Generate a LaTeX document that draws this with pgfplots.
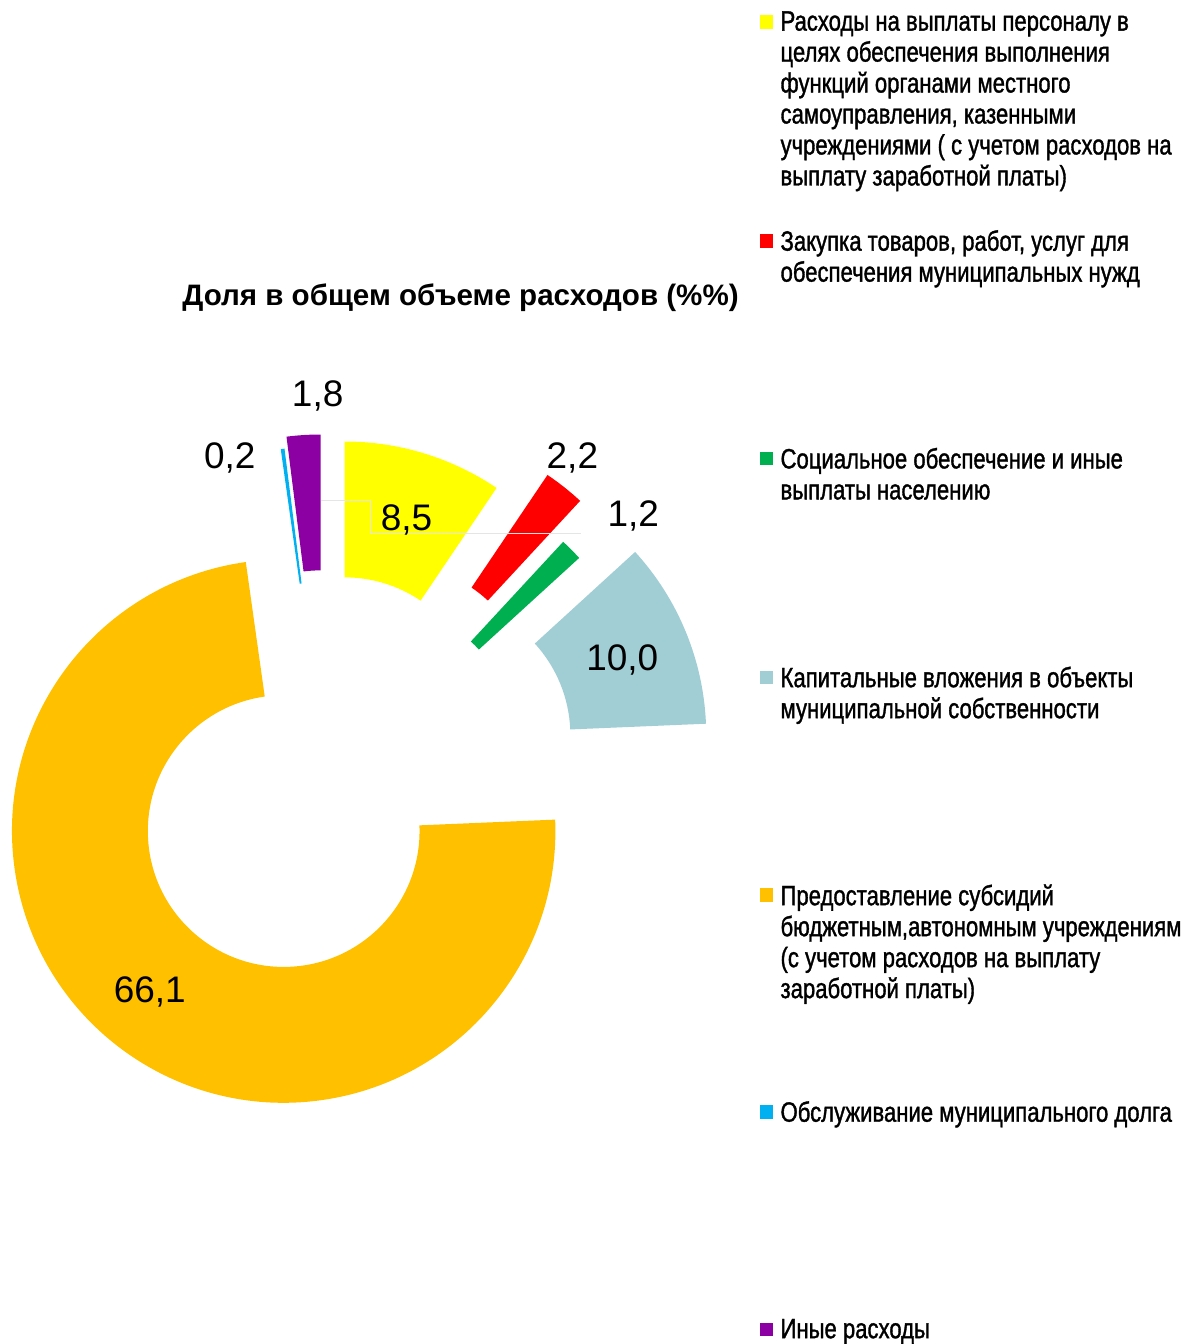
\documentclass[border=0pt]{standalone}
\usepackage{fontspec}
\setmainfont{Liberation Sans}
\newfontfamily\legfont{Liberation Sans}[FakeStretch=0.79, FakeBold=1.2]
\usepackage{pgfplots}
\usepackage{pgfplotstable}
\pgfplotsset{compat=1.18}
\usetikzlibrary{calc}
\definecolor{cY}{HTML}{FFFF00}
\definecolor{cR}{HTML}{FF0000}
\definecolor{cG}{HTML}{00B050}
\definecolor{cB}{HTML}{A0CED4}
\definecolor{cO}{HTML}{FFC000}
\definecolor{cL}{HTML}{00B0F0}
\definecolor{cP}{HTML}{8C00A3}
% value (%), slice apex in picture pixels (x right, y down), colour
\pgfplotstableread{
idx val ax ay col
0 8.5 345 714 cY
1 2.2 396 701 cR
2 1.2 379 742 cG
3 10.0 435 736 cB
4 66.1 284 832 cO
5 0.2 319 719 cL
6 1.8 321 707 cP
}\slices
\begin{document}
\begin{tikzpicture}
\begin{axis}[
  x=0.5pt, y=0.5pt, scale only axis,
  xmin=0, xmax=1186, ymin=-1344, ymax=0,
  hide axis, clip=false]
\addplot[draw=none, no marks] coordinates {(0,0) (1186,-1344)};
% total
\def\tot{0}
\pgfplotsforeachungrouped \i in {0,...,6}{%
  \pgfplotstablegetelem{\i}{val}\of\slices
  \pgfmathsetmacro\tot{\tot+\pgfplotsretval}%
  \global\let\tot\tot
}
\def\rin{68pt}\def\rout{136pt}
\def\cum{90}
\pgfplotsforeachungrouped \i in {0,...,6}{%
  \pgfplotstablegetelem{\i}{val}\of\slices \let\sv\pgfplotsretval
  \pgfplotstablegetelem{\i}{ax}\of\slices \let\sax\pgfplotsretval
  \pgfplotstablegetelem{\i}{ay}\of\slices \let\say\pgfplotsretval
  \pgfplotstablegetelem{\i}{col}\of\slices \let\scol\pgfplotsretval
  \pgfmathsetmacro\endang{\cum-\sv/\tot*360}%
  \edef\doit{\noexpand\fill[\scol, overlay] ($(axis cs:\sax,-\say)+(\cum:\rin)$) arc[start angle=\cum,end angle=\endang,radius=\rin] -- ($(axis cs:\sax,-\say)+(\endang:\rout)$) arc[start angle=\endang,end angle=\cum,radius=\rout] -- cycle;}%
  \doit
  \global\let\cum\endang
}
% faint leader lines
\draw[black!10, line width=0.4pt] (axis cs:321,-501) -- (axis cs:371,-501) -- (axis cs:371,-534) -- (axis cs:582,-534);
% data labels
\begin{scope}[every node/.style={font=\fontsize{18.5}{20}\selectfont, inner sep=0pt}]
\node at (axis cs:318,-396) {1,8};
\node at (axis cs:230,-458) {0,2};
\node at (axis cs:407,-521) {8,5};
\node at (axis cs:573,-458) {2,2};
\node at (axis cs:634,-517) {1,2};
\node at (axis cs:623,-661) {10,0};
\node at (axis cs:150,-993) {66,1};
\end{scope}
% title
\node[font=\bfseries\fontsize{14.8}{16}\selectfont, inner sep=0pt] at (axis cs:461,-298) {Доля в общем объеме расходов (\%\%)};
% legend markers
\addplot[only marks, mark=square*, mark size=3.1pt, mark options={draw=cY, fill=cY}] coordinates {(767,-22)};
\addplot[only marks, mark=square*, mark size=3.1pt, mark options={draw=cR, fill=cR}] coordinates {(767,-241)};
\addplot[only marks, mark=square*, mark size=3.1pt, mark options={draw=cG, fill=cG}] coordinates {(767,-459)};
\addplot[only marks, mark=square*, mark size=3.1pt, mark options={draw=cB, fill=cB}] coordinates {(767,-678)};
\addplot[only marks, mark=square*, mark size=3.1pt, mark options={draw=cO, fill=cO}] coordinates {(767,-896)};
\addplot[only marks, mark=square*, mark size=3.1pt, mark options={draw=cL, fill=cL}] coordinates {(767,-1113)};
\addplot[only marks, mark=square*, mark size=3.1pt, mark options={draw=cP, fill=cP}] coordinates {(767,-1331)};
% legend texts
\begin{scope}[every node/.style={font=\legfont\fontsize{14}{15.5}\selectfont, inner sep=0pt, anchor=north west, align=left}]
\node at (axis cs:781,-11) {Расходы на выплаты персоналу в\\целях обеспечения выполнения\\функций органами местного\\самоуправления, казенными\\учреждениями ( с учетом расходов на\\выплату заработной платы)};
\node at (axis cs:781,-230) {Закупка товаров, работ, услуг для\\обеспечения муниципальных нужд};
\node at (axis cs:781,-448) {Социальное обеспечение и иные\\выплаты населению};
\node at (axis cs:781,-667) {Капитальные вложения в объекты\\муниципальной собственности};
\node at (axis cs:781,-885) {Предоставление субсидий\\бюджетным,автономным учреждениям\\(с учетом расходов на выплату\\заработной платы)};
\node at (axis cs:781,-1102) {Обслуживание муниципального долга};
\node at (axis cs:781,-1320) {Иные расходы};
\end{scope}
\end{axis}
\end{tikzpicture}
\end{document}
